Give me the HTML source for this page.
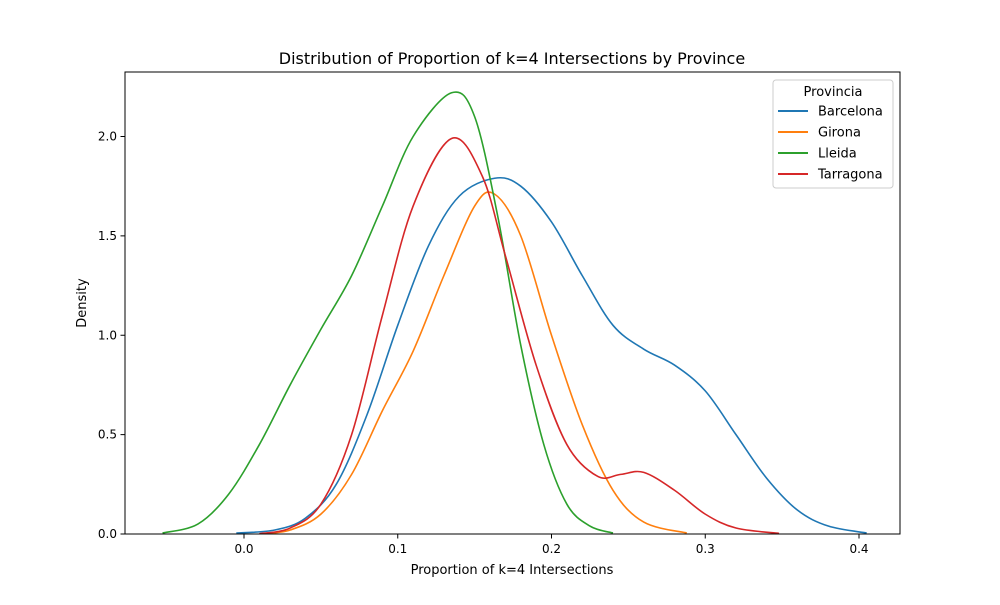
<!DOCTYPE html>
<html><head><meta charset="utf-8"><style>
body{margin:0;background:#fff;font-family:"Liberation Sans","DejaVu Sans",sans-serif;}
svg text{font-family:"DejaVu Sans","Liberation Sans",sans-serif;}
</style></head><body>
<svg id="chart" width="1000" height="600" xmlns="http://www.w3.org/2000/svg">
<rect width="1000" height="600" fill="#fff"/>
<text x="512" y="64" font-size="16" text-anchor="middle">Distribution of Proportion of k=4 Intersections by Province</text>
<g id="curves"></g>
<g id="axes"></g>
<rect x="125" y="72" width="775" height="462" fill="none" stroke="#000" stroke-width="1"/>
<text x="512" y="574" font-size="13" text-anchor="middle">Proportion of k=4 Intersections</text>
<text x="86" y="303" font-size="13" text-anchor="middle" transform="rotate(-90 86 303)">Density</text>
<g id="legend">
<rect x="773" y="80" width="120" height="108" rx="3" fill="#fff" stroke="#ccc"/>
<text x="833" y="96" font-size="13" text-anchor="middle">Provincia</text>
</g>
</svg>
<script>
const seriesNames = ["Barcelona","Girona","Lleida","Tarragona"];
const seriesColors = ["#1f77b4","#ff7f0e","#2ca02c","#d62728"];
const barcelonaX = [-0.005,0.02,0.04,0.06,0.08,0.1,0.12,0.14,0.163,0.18,0.2,0.22,0.24,0.26,0.28,0.3,0.32,0.34,0.36,0.38,0.405];
const barcelonaY = [0.005,0.02,0.08,0.25,0.6,1.05,1.45,1.7,1.79,1.75,1.57,1.3,1.05,0.93,0.85,0.72,0.5,0.28,0.12,0.04,0.005];
const gironaX = [0.013,0.03,0.05,0.07,0.09,0.11,0.13,0.15,0.163,0.18,0.2,0.22,0.24,0.26,0.288];
const gironaY = [0.002,0.02,0.1,0.3,0.62,0.92,1.3,1.65,1.71,1.5,1.0,0.55,0.22,0.06,0.005];
const lleidaX = [-0.053,-0.03,-0.01,0.01,0.03,0.05,0.07,0.09,0.11,0.135,0.15,0.165,0.18,0.195,0.21,0.225,0.24];
const lleidaY = [0.005,0.05,0.2,0.45,0.75,1.03,1.3,1.65,2.0,2.22,2.1,1.6,0.95,0.45,0.15,0.04,0.005];
const tarragonaX = [0.01,0.03,0.05,0.07,0.09,0.11,0.135,0.155,0.17,0.19,0.21,0.23,0.245,0.26,0.28,0.3,0.32,0.348];
const tarragonaY = [0.002,0.03,0.15,0.5,1.1,1.65,1.99,1.8,1.4,0.85,0.45,0.29,0.3,0.31,0.22,0.1,0.03,0.003];
const xTicks = [0.0,0.1,0.2,0.3,0.4];
const xTickLabels = ["0.0","0.1","0.2","0.3","0.4"];
const yTicks = [0,0.5,1.0,1.5,2.0];
const yTickLabels = ["0.0","0.5","1.0","1.5","2.0"];

const NS="http://www.w3.org/2000/svg";
function sx(v){return 244+v*1537.5;}
function sy(v){return 534-v*198.75;}
function mk(t,a,p){const e=document.createElementNS(NS,t);for(const k in a)e.setAttribute(k,a[k]);p.appendChild(e);return e;}
const axes=document.getElementById('axes');
xTicks.forEach((t,i)=>{
  const l=mk('line',{x1:sx(t),x2:sx(t),y1:534,y2:538.5,stroke:'#000'},axes);
  
  
  const tx=mk('text',{x:sx(t),y:553,'font-size':12,'text-anchor':'middle'},axes);
  tx.textContent=xTickLabels[i];
  
  
});
yTicks.forEach((t,i)=>{
  const l=mk('line',{x1:120.5,x2:125,y1:sy(t),y2:sy(t),stroke:'#000'},axes);
  
  
  const tx=mk('text',{x:117,y:sy(t)+4,'font-size':12,'text-anchor':'end'},axes);
  tx.textContent=yTickLabels[i];
  
  
});
function pathD(xs,ys){
  const p=xs.map((x,i)=>[sx(x),sy(ys[i])]);
  let d='M'+p[0][0]+','+p[0][1];
  for(let i=0;i<p.length-1;i++){
    const p0=p[i-1]||p[i],p1=p[i],p2=p[i+1],p3=p[i+2]||p[i+1];
    const c1=[p1[0]+(p2[0]-p0[0])/6,p1[1]+(p2[1]-p0[1])/6];
    const c2=[p2[0]-(p3[0]-p1[0])/6,p2[1]-(p3[1]-p1[1])/6];
    d+=' C'+c1+' '+c2+' '+p2;
  }
  return d;
}
const data=[[barcelonaX,barcelonaY],[gironaX,gironaY],[lleidaX,lleidaY],[tarragonaX,tarragonaY]];
const cg=document.getElementById('curves');
const lg=document.getElementById('legend');
data.forEach((s,i)=>{
  const p=mk('path',{d:pathD(s[0],s[1]),fill:'none',stroke:seriesColors[i],'stroke-width':1.6},cg);
  
  
  const y=111+i*21;
  const l=mk('line',{x1:778,x2:808,y1:y,y2:y,stroke:seriesColors[i],'stroke-width':2},lg);
  
  
  const t=mk('text',{x:818,y:y+4.5,'font-size':13},lg);
  t.textContent=seriesNames[i];
  
  
});
</script>
</body></html>
